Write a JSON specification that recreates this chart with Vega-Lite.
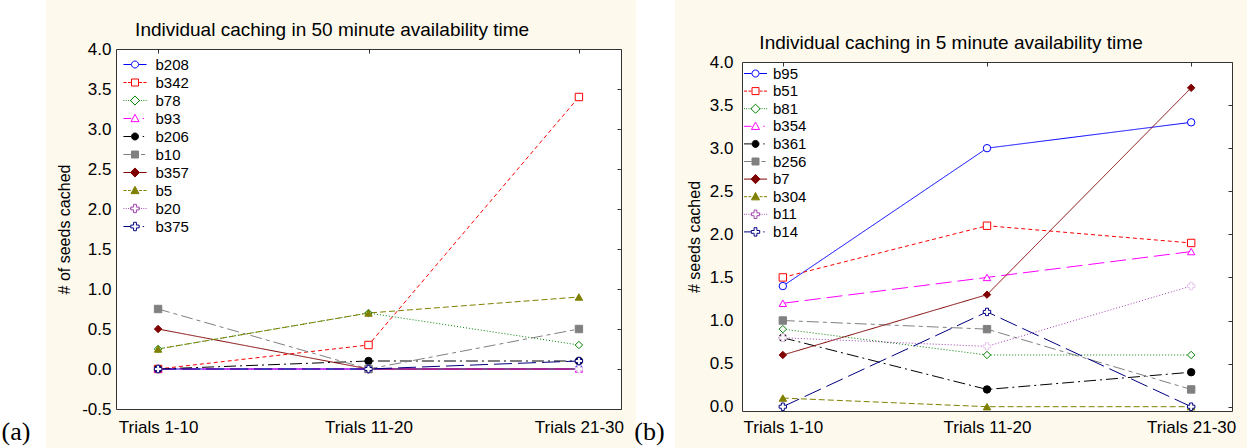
{
  "$schema": "https://vega.github.io/schema/vega-lite/v6.json",
  "background": "#fdf9ed",
  "padding": {"left": 0, "top": 0, "right": 0, "bottom": 0},
  "spacing": 10,
  "config": {
    "font": "Liberation Sans",
    "view": {"stroke": "#333333", "strokeWidth": 1, "fill": "white"},
    "axis": {"labelFont": "Liberation Sans", "labelFontSize": 17, "labelColor": "#000000", "titleFont": "Liberation Sans", "titleFontSize": 16, "titleFontWeight": "normal", "titleColor": "#000000", "grid": false, "domain": false, "ticks": false},
    "title": {"font": "Liberation Sans", "fontSize": 19, "fontWeight": "normal", "color": "#000000"}
  },
  "resolve": {"scale": {"color": "independent", "strokeDash": "independent", "shape": "independent", "fill": "independent", "stroke": "independent"}},
  "hconcat": [
    {
      "width": 46, "height": 448,
      "view": {"fill": "white", "stroke": null},
      "data": {"values": [{"t": "(a)"}]},
      "mark": {"type": "text", "font": "Liberation Serif", "fontSize": 26, "baseline": "alphabetic", "align": "center", "dx": -7, "dy": -8, "color": "#000000"},
      "encoding": {"text": {"field": "t"}, "y": {"value": "height"}}
    },
    {
      "spacing": 0,
      "vconcat": [
        {"width": 1, "height": 20, "view": {"fill": "transparent", "stroke": null}, "data": {"values": []}, "mark": "text"},
        {
          "title": {"text": "Individual caching in 50 minute availability time", "baseline": "bottom", "anchor": "middle", "frame": "bounds", "offset": -19, "dx": -8},
          "width": 505, "height": 360,
          "data": {"values": [
            {"bird": "b208", "trial": "Trials 1-10", "value": 0}, {"bird": "b208", "trial": "Trials 11-20", "value": 0}, {"bird": "b208", "trial": "Trials 21-30", "value": 0},
            {"bird": "b342", "trial": "Trials 1-10", "value": 0}, {"bird": "b342", "trial": "Trials 11-20", "value": 0.3}, {"bird": "b342", "trial": "Trials 21-30", "value": 3.4},
            {"bird": "b78", "trial": "Trials 1-10", "value": 0.25}, {"bird": "b78", "trial": "Trials 11-20", "value": 0.7}, {"bird": "b78", "trial": "Trials 21-30", "value": 0.3},
            {"bird": "b93", "trial": "Trials 1-10", "value": 0}, {"bird": "b93", "trial": "Trials 11-20", "value": 0}, {"bird": "b93", "trial": "Trials 21-30", "value": 0},
            {"bird": "b206", "trial": "Trials 1-10", "value": 0}, {"bird": "b206", "trial": "Trials 11-20", "value": 0.1}, {"bird": "b206", "trial": "Trials 21-30", "value": 0.1},
            {"bird": "b10", "trial": "Trials 1-10", "value": 0.75}, {"bird": "b10", "trial": "Trials 11-20", "value": 0}, {"bird": "b10", "trial": "Trials 21-30", "value": 0.5},
            {"bird": "b357", "trial": "Trials 1-10", "value": 0.5}, {"bird": "b357", "trial": "Trials 11-20", "value": 0}, {"bird": "b357", "trial": "Trials 21-30", "value": 0},
            {"bird": "b5", "trial": "Trials 1-10", "value": 0.25}, {"bird": "b5", "trial": "Trials 11-20", "value": 0.7}, {"bird": "b5", "trial": "Trials 21-30", "value": 0.9},
            {"bird": "b20", "trial": "Trials 1-10", "value": 0}, {"bird": "b20", "trial": "Trials 11-20", "value": 0}, {"bird": "b20", "trial": "Trials 21-30", "value": 0},
            {"bird": "b375", "trial": "Trials 1-10", "value": 0}, {"bird": "b375", "trial": "Trials 11-20", "value": 0}, {"bird": "b375", "trial": "Trials 21-30", "value": 0.1}
          ]},
          "resolve": {"scale": {"shape": "independent", "fill": "independent", "stroke": "independent"}, "axis": {"x": "independent", "y": "independent"}},
          "layer": [
            {
              "mark": {"type": "line", "strokeWidth": 1},
              "encoding": {
                "x": {"field": "trial", "type": "ordinal", "sort": ["Trials 1-10", "Trials 11-20", "Trials 21-30"], "scale": {"type": "point", "padding": 0.2}, "axis": {"title": null, "labelAngle": 0, "labelPadding": 10}},
                "y": {"field": "value", "type": "quantitative", "scale": {"domain": [-0.5, 4.0], "nice": false, "zero": false}, "axis": {"title": "# of seeds cached", "values": [-0.5, 0, 0.5, 1, 1.5, 2, 2.5, 3, 3.5, 4], "labelExpr": "datum.value < 0 ? '-' + format(-datum.value, '.1f') : format(datum.value, '.1f')", "labelPadding": 5, "titlePadding": 9}},
                "color": {"field": "bird", "type": "nominal", "legend": null, "scale": {"domain": ["b208", "b342", "b78", "b93", "b206", "b10", "b357", "b5", "b20", "b375"], "range": ["#0000ff", "#ff0000", "#008000", "#ff00ff", "#000000", "#808080", "#800000", "#808000", "#a040b0", "#000080"]}},
                "strokeDash": {"field": "bird", "type": "nominal", "legend": null, "scale": {"domain": ["b208", "b342", "b78", "b93", "b206", "b10", "b357", "b5", "b20", "b375"], "range": [[1, 0], [4, 3], [1, 2], [16, 6], [12, 4, 2, 4], [12, 4, 4, 4], [1, 0], [6, 3], [1, 2], [18, 6]]}}
              }
            },
            {
              "mark": {"type": "point", "filled": true, "size": 55, "strokeWidth": 1, "opacity": 1},
              "encoding": {
                "x": {"field": "trial", "type": "ordinal", "sort": ["Trials 1-10", "Trials 11-20", "Trials 21-30"], "axis": {"orient": "top", "title": null, "labels": false, "ticks": true, "tickSize": -4, "tickColor": "#333333", "domain": false}},
                "y": {"field": "value", "type": "quantitative", "axis": {"orient": "right", "title": null, "labels": false, "ticks": true, "tickSize": -4, "tickColor": "#333333", "domain": false, "values": [-0.5, 0, 0.5, 1, 1.5, 2, 2.5, 3, 3.5, 4]}},
                "shape": {"field": "bird", "type": "nominal", "legend": null, "scale": {"domain": ["b208", "b342", "b78", "b93", "b206", "b10", "b357", "b5", "b20", "b375"], "range": ["circle", "square", "diamond", "triangle-up", "circle", "square", "diamond", "triangle-up", "cross", "cross"]}},
                "fill": {"field": "bird", "type": "nominal", "legend": null, "scale": {"domain": ["b208", "b342", "b78", "b93", "b206", "b10", "b357", "b5", "b20", "b375"], "range": ["#ffffff", "#ffffff", "#ffffff", "#ffffff", "#000000", "#808080", "#800000", "#808000", "#ffffff", "#ffffff"]}},
                "stroke": {"field": "bird", "type": "nominal", "legend": null, "scale": {"domain": ["b208", "b342", "b78", "b93", "b206", "b10", "b357", "b5", "b20", "b375"], "range": ["#0000ff", "#ff0000", "#008000", "#ff00ff", "#000000", "#808080", "#800000", "#808000", "#e8c8ee", "#000080"]}}
              }
            },
            {
              "mark": {"type": "point", "filled": true, "size": 49, "strokeWidth": 1, "opacity": 0},
              "encoding": {
                "x": {"field": "trial", "type": "ordinal", "sort": ["Trials 1-10", "Trials 11-20", "Trials 21-30"], "axis": null},
                "y": {"field": "value", "type": "quantitative", "axis": null},
                "shape": {"field": "bird", "type": "nominal", "legend": {"title": null, "orient": "top-left", "offset": 8, "padding": 0, "symbolSize": 49, "symbolStrokeWidth": 1, "symbolOpacity": 1, "symbolOffset": 3.5, "labelOffset": 13, "labelFont": "Liberation Sans", "labelFontSize": 15, "labelColor": "#000000", "rowPadding": 2}, "scale": {"domain": ["b208", "b342", "b78", "b93", "b206", "b10", "b357", "b5", "b20", "b375"], "range": [
                  "M-3.3,0H-1.1M1.1,0H3.3M1,0A1,1,0,1,1,-1,0A1,1,0,1,1,1,0Z",
                  "M-3.3,0H-2.4M-2,0H-1.2M1.2,0H2M2.4,0H3.3M-1,-1H1V1H-1Z",
                  "M-3.3,0H-3.05M-2.65,0H-2.4M-2,0H-1.75M-1.35,0H-1.1M1.1,0H1.35M1.75,0H2M2.4,0H2.65M3.05,0H3.3M0,-1.3L1.3,0L0,1.3L-1.3,0Z",
                  "M-3.3,0H-1.1M2.2,0H2.6M0,-1.2L1.15,0.9H-1.15Z",
                  "M-3.3,0H-1.1M2.2,0H2.6M1,0A1,1,0,1,1,-1,0A1,1,0,1,1,1,0Z",
                  "M-3.3,0H-1.1M1.7,0H2.9M-1,-1H1V1H-1Z",
                  "M-3.3,0H-1.3M1.3,0H3.3M0,-1.3L1.3,0L0,1.3L-1.3,0Z",
                  "M-3.3,0H-2.4M-2,0H-1.2M1.2,0H2M2.4,0H3.3M0,-1.2L1.15,0.9H-1.15Z",
                  "M-3.3,0H-3.05M-2.65,0H-2.4M-2,0H-1.75M-1.35,0H-1.1M1.1,0H1.35M1.75,0H2M2.4,0H2.65M3.05,0H3.3M-0.4,-1.2H0.4V-0.4H1.2V0.4H0.4V1.2H-0.4V0.4H-1.2V-0.4H-0.4Z",
                  "M-3.3,0H-1.3M2.2,0H2.6M-0.4,-1.2H0.4V-0.4H1.2V0.4H0.4V1.2H-0.4V0.4H-1.2V-0.4H-0.4Z"
                ]}},
                "fill": {"field": "bird", "type": "nominal", "legend": {"title": null, "orient": "top-left", "offset": 8, "padding": 0, "symbolSize": 49, "symbolStrokeWidth": 1, "symbolOpacity": 1, "symbolOffset": 3.5, "labelOffset": 13, "labelFont": "Liberation Sans", "labelFontSize": 15, "labelColor": "#000000", "rowPadding": 2}, "scale": {"domain": ["b208", "b342", "b78", "b93", "b206", "b10", "b357", "b5", "b20", "b375"], "range": ["#ffffff", "#ffffff", "#ffffff", "#ffffff", "#000000", "#808080", "#800000", "#808000", "#ffffff", "#ffffff"]}},
                "stroke": {"field": "bird", "type": "nominal", "legend": {"title": null, "orient": "top-left", "offset": 8, "padding": 0, "symbolSize": 49, "symbolStrokeWidth": 1, "symbolOpacity": 1, "symbolOffset": 3.5, "labelOffset": 13, "labelFont": "Liberation Sans", "labelFontSize": 15, "labelColor": "#000000", "rowPadding": 2}, "scale": {"domain": ["b208", "b342", "b78", "b93", "b206", "b10", "b357", "b5", "b20", "b375"], "range": ["#0000ff", "#ff0000", "#008000", "#ff00ff", "#000000", "#808080", "#800000", "#808000", "#a040b0", "#000080"]}}
              }
            }
          ]
        }
      ]
    },
    {
      "width": 39, "height": 448,
      "view": {"fill": "white", "stroke": null},
      "data": {"values": [{"t": "(b)"}]},
      "mark": {"type": "text", "font": "Liberation Serif", "fontSize": 26, "baseline": "alphabetic", "align": "center", "dx": -6, "dy": -8, "color": "#000000"},
      "encoding": {"text": {"field": "t"}, "y": {"value": "height"}}
    },
    {
      "spacing": 0,
      "vconcat": [
        {"width": 1, "height": 33, "view": {"fill": "transparent", "stroke": null}, "data": {"values": []}, "mark": "text"},
        {
          "title": {"text": "Individual caching in 5 minute availability time", "baseline": "bottom", "anchor": "middle", "frame": "bounds", "offset": -19, "dx": -10},
          "width": 490, "height": 349,
          "data": {"values": [
            {"bird": "b95", "trial": "Trials 1-10", "value": 1.4}, {"bird": "b95", "trial": "Trials 11-20", "value": 3.0}, {"bird": "b95", "trial": "Trials 21-30", "value": 3.3},
            {"bird": "b51", "trial": "Trials 1-10", "value": 1.5}, {"bird": "b51", "trial": "Trials 11-20", "value": 2.1}, {"bird": "b51", "trial": "Trials 21-30", "value": 1.9},
            {"bird": "b81", "trial": "Trials 1-10", "value": 0.9}, {"bird": "b81", "trial": "Trials 11-20", "value": 0.6}, {"bird": "b81", "trial": "Trials 21-30", "value": 0.6},
            {"bird": "b354", "trial": "Trials 1-10", "value": 1.2}, {"bird": "b354", "trial": "Trials 11-20", "value": 1.5}, {"bird": "b354", "trial": "Trials 21-30", "value": 1.8},
            {"bird": "b361", "trial": "Trials 1-10", "value": 0.8}, {"bird": "b361", "trial": "Trials 11-20", "value": 0.2}, {"bird": "b361", "trial": "Trials 21-30", "value": 0.4},
            {"bird": "b256", "trial": "Trials 1-10", "value": 1.0}, {"bird": "b256", "trial": "Trials 11-20", "value": 0.9}, {"bird": "b256", "trial": "Trials 21-30", "value": 0.2},
            {"bird": "b7", "trial": "Trials 1-10", "value": 0.6}, {"bird": "b7", "trial": "Trials 11-20", "value": 1.3}, {"bird": "b7", "trial": "Trials 21-30", "value": 3.7},
            {"bird": "b304", "trial": "Trials 1-10", "value": 0.1}, {"bird": "b304", "trial": "Trials 11-20", "value": 0.0}, {"bird": "b304", "trial": "Trials 21-30", "value": 0.0},
            {"bird": "b11", "trial": "Trials 1-10", "value": 0.8}, {"bird": "b11", "trial": "Trials 11-20", "value": 0.7}, {"bird": "b11", "trial": "Trials 21-30", "value": 1.4},
            {"bird": "b14", "trial": "Trials 1-10", "value": 0.0}, {"bird": "b14", "trial": "Trials 11-20", "value": 1.1}, {"bird": "b14", "trial": "Trials 21-30", "value": 0.0}
          ]},
          "resolve": {"scale": {"shape": "independent", "fill": "independent", "stroke": "independent"}, "axis": {"x": "independent", "y": "independent"}},
          "layer": [
            {
              "mark": {"type": "line", "strokeWidth": 1},
              "encoding": {
                "x": {"field": "trial", "type": "ordinal", "sort": ["Trials 1-10", "Trials 11-20", "Trials 21-30"], "scale": {"type": "point", "padding": 0.2}, "axis": {"title": null, "labelAngle": 0, "labelPadding": 8}},
                "y": {"field": "value", "type": "quantitative", "scale": {"domain": [-0.05, 4.0], "nice": false, "zero": false}, "axis": {"title": "# seeds cached", "values": [0, 0.5, 1, 1.5, 2, 2.5, 3, 3.5, 4], "format": ".1f", "labelPadding": 9, "titlePadding": 7}},
                "color": {"field": "bird", "type": "nominal", "legend": null, "scale": {"domain": ["b95", "b51", "b81", "b354", "b361", "b256", "b7", "b304", "b11", "b14"], "range": ["#0000ff", "#ff0000", "#008000", "#ff00ff", "#000000", "#808080", "#800000", "#808000", "#a040b0", "#000080"]}},
                "strokeDash": {"field": "bird", "type": "nominal", "legend": null, "scale": {"domain": ["b95", "b51", "b81", "b354", "b361", "b256", "b7", "b304", "b11", "b14"], "range": [[1, 0], [4, 3], [1, 2], [16, 6], [12, 4, 2, 4], [12, 4, 4, 4], [1, 0], [6, 3], [1, 2], [18, 6]]}}
              }
            },
            {
              "mark": {"type": "point", "filled": true, "size": 55, "strokeWidth": 1, "opacity": 1},
              "encoding": {
                "x": {"field": "trial", "type": "ordinal", "sort": ["Trials 1-10", "Trials 11-20", "Trials 21-30"], "axis": {"orient": "top", "title": null, "labels": false, "ticks": true, "tickSize": -4, "tickColor": "#333333", "domain": false}},
                "y": {"field": "value", "type": "quantitative", "axis": {"orient": "right", "title": null, "labels": false, "ticks": true, "tickSize": -4, "tickColor": "#333333", "domain": false, "values": [0, 0.5, 1, 1.5, 2, 2.5, 3, 3.5, 4]}},
                "shape": {"field": "bird", "type": "nominal", "legend": null, "scale": {"domain": ["b95", "b51", "b81", "b354", "b361", "b256", "b7", "b304", "b11", "b14"], "range": ["circle", "square", "diamond", "triangle-up", "circle", "square", "diamond", "triangle-up", "cross", "cross"]}},
                "fill": {"field": "bird", "type": "nominal", "legend": null, "scale": {"domain": ["b95", "b51", "b81", "b354", "b361", "b256", "b7", "b304", "b11", "b14"], "range": ["#ffffff", "#ffffff", "#ffffff", "#ffffff", "#000000", "#808080", "#800000", "#808000", "#ffffff", "#ffffff"]}},
                "stroke": {"field": "bird", "type": "nominal", "legend": null, "scale": {"domain": ["b95", "b51", "b81", "b354", "b361", "b256", "b7", "b304", "b11", "b14"], "range": ["#0000ff", "#ff0000", "#008000", "#ff00ff", "#000000", "#808080", "#800000", "#808000", "#e8c8ee", "#000080"]}}
              }
            },
            {
              "mark": {"type": "point", "filled": true, "size": 49, "strokeWidth": 1, "opacity": 0},
              "encoding": {
                "x": {"field": "trial", "type": "ordinal", "sort": ["Trials 1-10", "Trials 11-20", "Trials 21-30"], "axis": null},
                "y": {"field": "value", "type": "quantitative", "axis": null},
                "shape": {"field": "bird", "type": "nominal", "legend": {"title": null, "orient": "top-left", "offset": 4, "padding": 0, "symbolSize": 49, "symbolStrokeWidth": 1, "symbolOpacity": 1, "symbolOffset": 2, "labelOffset": 10, "labelFont": "Liberation Sans", "labelFontSize": 15, "labelColor": "#000000", "rowPadding": 1.6}, "scale": {"domain": ["b95", "b51", "b81", "b354", "b361", "b256", "b7", "b304", "b11", "b14"], "range": [
                  "M-3.3,0H-1.1M1.1,0H3.3M1,0A1,1,0,1,1,-1,0A1,1,0,1,1,1,0Z",
                  "M-3.3,0H-2.4M-2,0H-1.2M1.2,0H2M2.4,0H3.3M-1,-1H1V1H-1Z",
                  "M-3.3,0H-3.05M-2.65,0H-2.4M-2,0H-1.75M-1.35,0H-1.1M1.1,0H1.35M1.75,0H2M2.4,0H2.65M3.05,0H3.3M0,-1.3L1.3,0L0,1.3L-1.3,0Z",
                  "M-3.3,0H-1.1M2.2,0H2.6M0,-1.2L1.15,0.9H-1.15Z",
                  "M-3.3,0H-1.1M2.2,0H2.6M1,0A1,1,0,1,1,-1,0A1,1,0,1,1,1,0Z",
                  "M-3.3,0H-1.1M1.7,0H2.9M-1,-1H1V1H-1Z",
                  "M-3.3,0H-1.3M1.3,0H3.3M0,-1.3L1.3,0L0,1.3L-1.3,0Z",
                  "M-3.3,0H-2.4M-2,0H-1.2M1.2,0H2M2.4,0H3.3M0,-1.2L1.15,0.9H-1.15Z",
                  "M-3.3,0H-3.05M-2.65,0H-2.4M-2,0H-1.75M-1.35,0H-1.1M1.1,0H1.35M1.75,0H2M2.4,0H2.65M3.05,0H3.3M-0.4,-1.2H0.4V-0.4H1.2V0.4H0.4V1.2H-0.4V0.4H-1.2V-0.4H-0.4Z",
                  "M-3.3,0H-1.3M2.2,0H2.6M-0.4,-1.2H0.4V-0.4H1.2V0.4H0.4V1.2H-0.4V0.4H-1.2V-0.4H-0.4Z"
                ]}},
                "fill": {"field": "bird", "type": "nominal", "legend": {"title": null, "orient": "top-left", "offset": 4, "padding": 0, "symbolSize": 49, "symbolStrokeWidth": 1, "symbolOpacity": 1, "symbolOffset": 2, "labelOffset": 10, "labelFont": "Liberation Sans", "labelFontSize": 15, "labelColor": "#000000", "rowPadding": 1.6}, "scale": {"domain": ["b95", "b51", "b81", "b354", "b361", "b256", "b7", "b304", "b11", "b14"], "range": ["#ffffff", "#ffffff", "#ffffff", "#ffffff", "#000000", "#808080", "#800000", "#808000", "#ffffff", "#ffffff"]}},
                "stroke": {"field": "bird", "type": "nominal", "legend": {"title": null, "orient": "top-left", "offset": 4, "padding": 0, "symbolSize": 49, "symbolStrokeWidth": 1, "symbolOpacity": 1, "symbolOffset": 2, "labelOffset": 10, "labelFont": "Liberation Sans", "labelFontSize": 15, "labelColor": "#000000", "rowPadding": 1.6}, "scale": {"domain": ["b95", "b51", "b81", "b354", "b361", "b256", "b7", "b304", "b11", "b14"], "range": ["#0000ff", "#ff0000", "#008000", "#ff00ff", "#000000", "#808080", "#800000", "#808000", "#a040b0", "#000080"]}}
              }
            }
          ]
        }
      ]
    },
    {
      "width": 9, "height": 448,
      "view": {"fill": "white", "stroke": null},
      "data": {"values": [{"t": ""}]},
      "mark": {"type": "text"},
      "encoding": {"text": {"field": "t"}}
    }
  ]
}
